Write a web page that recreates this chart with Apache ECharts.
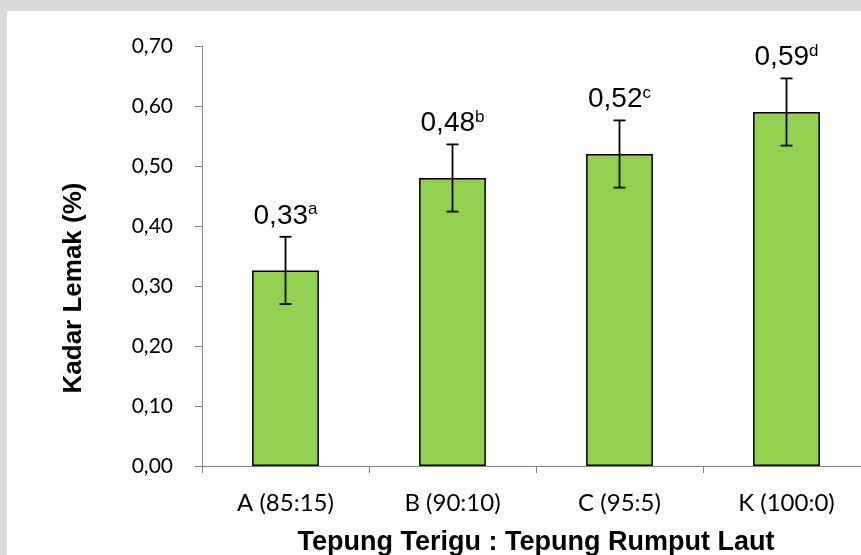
<!DOCTYPE html>
<html>
<head>
<meta charset="utf-8">
<script src="https://cdn.jsdelivr.net/npm/echarts@6/dist/echarts.min.js"></script>
<style>
html,body{margin:0;padding:0;background:#fff;}
#chart{width:861px;height:555px;}
</style>
</head>
<body>
<div id="chart"></div>
<script>
const categories = ['A (85:15)', 'B (90:10)', 'C (95:5)', 'K (100:0)'];
const means = [0.326, 0.48, 0.52, 0.59];
const errors = [0.056, 0.056, 0.056, 0.056];
const letters = ['a', 'b', 'c', 'd'];
const meanLabels = ['0,33', '0,48', '0,52', '0,59'];
const xTitle = 'Tepung Terigu : Tepung Rumput Laut';
const yTitle = 'Kadar Lemak (%)';

const chart = echarts.init(document.getElementById('chart'), null, {renderer: 'canvas'});

const option = {
  backgroundColor: '#ffffff',
  animation: false,
  graphic: [
    {type: 'rect', left: 0, top: 0, shape: {width: 861, height: 11}, style: {fill: '#d9d9d9'}, z: 0},
    {type: 'rect', left: 0, top: 0, shape: {width: 7, height: 555}, style: {fill: '#d9d9d9'}, z: 0},
    {
      type: 'text', x: 74, y: 288, rotation: Math.PI / 2, z: 10,
      style: {
        text: yTitle, align: 'center', verticalAlign: 'middle',
        fontFamily: 'Liberation Sans, Arial', fontWeight: 'bold', fontSize: 26, fill: '#000'
      }
    }
  ],
  grid: {left: 202, top: 46, width: 668, height: 420, outerBoundsMode: 'none', containLabel: false},
  xAxis: {
    type: 'category',
    data: categories,
    axisLine: {lineStyle: {color: '#868686', width: 1}},
    axisTick: {show: true, length: 7, lineStyle: {color: '#868686'}, alignWithLabel: false},
    axisLabel: {color: '#000', fontFamily: 'Lato', fontSize: 24, margin: 25},
    name: xTitle,
    nameLocation: 'middle',
    nameGap: 63,
    nameTextStyle: {color: '#000', fontFamily: 'Liberation Sans, Arial', fontWeight: 'bold', fontSize: 27}
  },
  yAxis: {
    type: 'value',
    min: 0,
    max: 0.7,
    interval: 0.1,
    axisLine: {show: true, lineStyle: {color: '#868686', width: 1}},
    axisTick: {show: true, length: 7, lineStyle: {color: '#868686'}},
    splitLine: {show: false},
    axisLabel: {
      color: '#000', fontFamily: 'Lato', fontSize: 21, margin: 29,
      formatter: v => v.toFixed(2).replace('.', ',')
    }
  },
  series: [
    {
      type: 'bar',
      data: means,
      barWidth: '40%',
      itemStyle: {color: '#92d050', borderColor: '#000', borderWidth: 1.5},
      z: 2
    },
    {
      type: 'custom',
      z: 5,
      data: means.map((m, i) => [i, m, errors[i]]),
      renderItem: function (params, api) {
        const i = api.value(0);
        const m = api.value(1);
        const e = api.value(2);
        const top = api.coord([i, m + e]);
        const bot = api.coord([i, m - e]);
        const x = top[0];
        const hw = 6;
        const ls = {stroke: '#000', lineWidth: 1.8};
        return {
          type: 'group',
          children: [
            {type: 'line', shape: {x1: x, y1: top[1], x2: x, y2: bot[1]}, style: ls},
            {type: 'line', shape: {x1: x - hw, y1: top[1], x2: x + hw, y2: top[1]}, style: ls},
            {type: 'line', shape: {x1: x - hw, y1: bot[1], x2: x + hw, y2: bot[1]}, style: ls},
            {
              type: 'text',
              style: {
                x: x,
                y: top[1] - 7,
                align: 'center',
                verticalAlign: 'bottom',
                text: '{v|' + meanLabels[params.dataIndex] + '}{s|' + letters[params.dataIndex] + '}',
                rich: {
                  v: {fontFamily: 'Liberation Sans, Arial', fontSize: 28, color: '#000', lineHeight: 32, verticalAlign: 'bottom'},
                  s: {fontFamily: 'Liberation Sans, Arial', fontSize: 17, color: '#000', lineHeight: 32, verticalAlign: 'top', padding: [3, 0, 0, 0]}
                }
              }
            }
          ]
        };
      }
    }
  ]
};
chart.setOption(option);
</script>
</body>
</html>
